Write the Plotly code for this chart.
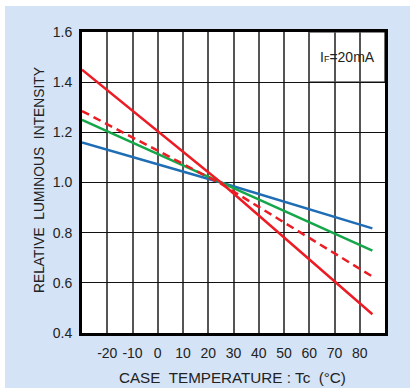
import plotly.graph_objects as go

temps = [-30, 25, 85]
red_solid = [1.45, 1.0, 0.475]
red_dashed = [1.285, 0.995, 0.625]
green = [1.25, 1.0, 0.728]
blue = [1.16, 1.0, 0.817]

x_ticks = [-20, -10, 0, 10, 20, 30, 40, 50, 60, 70, 80]
y_ticks = [0.4, 0.6, 0.8, 1.0, 1.2, 1.4, 1.6]

W, H = 410, 388
L, R, T, B = 82, 25, 32, 55
pw, ph = W - L - R, H - T - B
FONT = "Liberation Sans, Arial, Helvetica"

def px_x(p):
    return (p - L) / pw

def px_y(p):
    return (H - B - p) / ph

fig = go.Figure()
fig.add_trace(go.Scatter(x=temps, y=blue, mode="lines",
                         line=dict(color="#1f6db5", width=2.5), hoverinfo="skip"))
fig.add_trace(go.Scatter(x=temps, y=green, mode="lines",
                         line=dict(color="#16a64a", width=2.5), hoverinfo="skip"))
fig.add_trace(go.Scatter(x=temps, y=red_dashed, mode="lines",
                         line=dict(color="#ec1c24", width=2.5, dash="8px,5px"), hoverinfo="skip"))
fig.add_trace(go.Scatter(x=temps, y=red_solid, mode="lines",
                         line=dict(color="#ec1c24", width=2.5), hoverinfo="skip"))

# label box cut-out in the grid
fig.add_shape(type="rect", xref="x", yref="y", x0=60, x1=90, y0=1.4, y1=1.6,
              fillcolor="white", line=dict(color="#111", width=1.2), layer="below")

# white margins outside the blue panel
fig.add_shape(type="rect", xref="paper", yref="paper", x0=px_x(-5), x1=px_x(W + 5),
              y0=px_y(6), y1=px_y(-5), fillcolor="white", line=dict(width=0), layer="below")
fig.add_shape(type="rect", xref="paper", yref="paper", x0=px_x(-5), x1=px_x(5),
              y0=px_y(H + 5), y1=px_y(-5), fillcolor="white", line=dict(width=0), layer="below")

fig.add_annotation(x=px_x(347), y=px_y(57), xref="paper", yref="paper",
                   xanchor="center", yanchor="middle",
                   text="I<span style='font-size:9px'>F</span>=20mA", showarrow=False,
                   font=dict(size=14, color="#222", family=FONT))
fig.add_annotation(x=px_x(232.5), y=px_y(377), xref="paper", yref="paper",
                   xanchor="center", yanchor="middle",
                   text="CASE\u00a0\u00a0TEMPERATURE\u00a0:\u00a0Tc\u00a0\u00a0(°C)", showarrow=False,
                   font=dict(size=15.2, color="#222", family=FONT))
fig.add_annotation(x=px_x(39), y=px_y(180), xref="paper", yref="paper",
                   xanchor="center", yanchor="middle",
                   text="RELATIVE\u00a0\u00a0LUMINOUS\u00a0\u00a0INTENSITY", showarrow=False, textangle=-90,
                   font=dict(size=13.8, color="#222", family=FONT))

fig.update_xaxes(range=[-30, 90], tickvals=x_ticks, ticktext=[str(v) for v in x_ticks],
                 showgrid=True, gridcolor="#555", gridwidth=1.5, zeroline=False,
                 showline=True, linecolor="#000", linewidth=3, mirror=True,
                 ticks="", ticklabelstandoff=5,
                 tickfont=dict(size=14, color="#222", family=FONT))
fig.update_yaxes(range=[0.4, 1.6], tickvals=y_ticks, ticktext=[f"{v:.1f}" for v in y_ticks],
                 showgrid=True, gridcolor="#111", gridwidth=1.2, zeroline=False,
                 showline=True, linecolor="#000", linewidth=3, mirror=True,
                 ticks="", ticklabelstandoff=4,
                 tickfont=dict(size=14, color="#222", family=FONT))

fig.update_layout(width=W, height=H, margin=dict(l=L, r=R, t=T, b=B),
                  paper_bgcolor="#d4e3f5", plot_bgcolor="white", showlegend=False)

fig.write_html("out.html", config={"displayModeBar": False},
               post_script="document.body.style.margin='0';")
